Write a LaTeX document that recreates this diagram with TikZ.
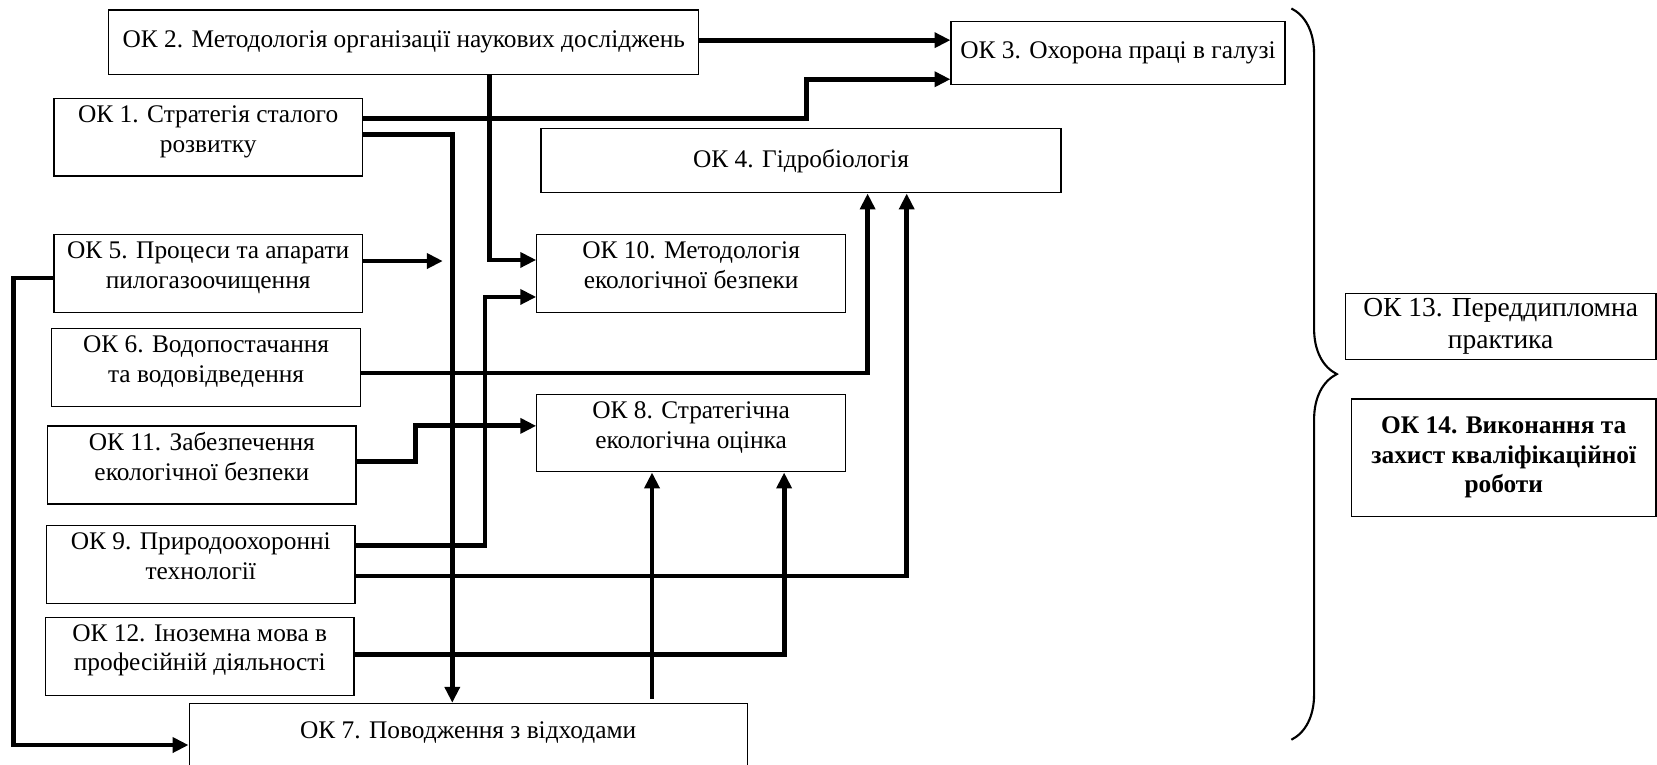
\documentclass[tikz,border=0pt]{standalone}
\usepackage{fontspec}
\setmainfont{Liberation Serif}
\usetikzlibrary{arrows.meta,decorations.pathreplacing}
% keeps two-line text near the top of its box
\newcommand{\lastpad}{\rule[-16pt]{0pt}{0pt}}

\begin{document}
\begin{tikzpicture}[x=1pt,y=-1pt,
	every node/.style={font=\fontsize{24}{28}\selectfont},
	box/.style={draw=black,line width=1.2pt,align=center,inner sep=0pt,minimum width=292pt,minimum height=74pt},
	link/.style={line width=4.6pt,-{Triangle[length=15pt,width=14pt]}}]
	\useasboundingbox (0,0) rectangle (1568,723);
	\node[box,minimum width=558pt,minimum height=61pt] (ok2) at (382,40) {ОК 2. Методологія організації наукових досліджень};
	\node[box,minimum width=316pt,minimum height=60pt] (ok3) at (1058,50) {ОК 3. Охорона праці в галузі};
	\node[box,minimum height=73pt] (ok1) at (197,130) {ОК 1. Стратегія сталого\\розвитку\lastpad};
	\node[box,minimum width=492pt,minimum height=61pt] (ok4) at (758,152) {ОК 4. Гідробіологія};
	\node[box] (ok5) at (197,259) {ОК 5. Процеси та апарати\\пилогазоочищення\lastpad};
	\node[box] (ok10) at (654,259) {ОК 10. Методологія\\екологічної безпеки\lastpad};
	\node[box] (ok6) at (195,348) {ОК 6. Водопостачання\\та водовідведення\lastpad};
	\node[box,minimum height=73pt] (ok8) at (654,410) {ОК 8. Стратегічна\\екологічна оцінка\lastpad};
	\node[box] (ok11) at (191,440) {ОК 11. Забезпечення\\екологічної безпеки\lastpad};
	\node[box] (ok9) at (190,534) {ОК 9. Природоохоронні\\технології\lastpad};
	\node[box] (ok12) at (189,621) {ОК 12. Іноземна мова в\\професійній діяльності\lastpad};
	\node[box,anchor=north,minimum width=528pt,minimum height=80pt,text height=17pt,text depth=31pt] (ok7) at (443,665) {ОК 7. Поводження з відходами};
	\node[box,minimum width=294pt,minimum height=62pt,font=\fontsize{26}{30}\selectfont] (ok13) at (1420,309) {ОК 13. Переддипломна\\практика};
	\node[box,minimum width=288pt,minimum height=111pt,font=\fontsize{24}{28}\selectfont\bfseries] (ok14) at (1423,433) {ОК 14. Виконання та\\захист кваліфікаційної\\роботи};
	\coordinate (ok5end) at (419,247);

	\draw[link] ([yshift=2pt]ok2.east) -- ([yshift=12pt]ok3.west);
	\draw[link] ([yshift=18pt]ok1.east) -| (763,75) -- ([yshift=-25pt]ok3.west);
	\draw[link] ([yshift=3pt]ok1.east) -| ([xshift=-15pt]ok7.north);
	\draw[link] ([xshift=81pt]ok2.south) |- ([yshift=13pt]ok10.west);
	\draw[link] ([yshift=12pt]ok5.east) -- (ok5end);
	\draw[link] ([yshift=-4pt]ok5.west) -| (12.5,705) -- ([yshift=-40pt]ok7.north west);
	\draw[link] ([yshift=-5pt]ok6.east) -| ([xshift=63pt]ok4.south);
	\draw[link] ([yshift=3pt]ok11.east) -| (393,420) |- ([yshift=7pt]ok8.west);
	\draw[link] ([yshift=18pt]ok9.east) -| (459,400) |- ([yshift=-22pt]ok10.west);
	\draw[link] ([yshift=-11pt]ok9.east) -| ([xshift=100pt]ok4.south);
	\draw[link] ([yshift=2pt]ok12.east) -| ([xshift=88pt]ok8.south);
	\draw[link] ([xshift=174pt,yshift=4pt]ok7.north) -- ([xshift=-37pt]ok8.south);

	\draw[line width=2pt,decorate,decoration={brace,amplitude=43pt}] (1222,8) -- (1222,700);
\end{tikzpicture}
\end{document}
